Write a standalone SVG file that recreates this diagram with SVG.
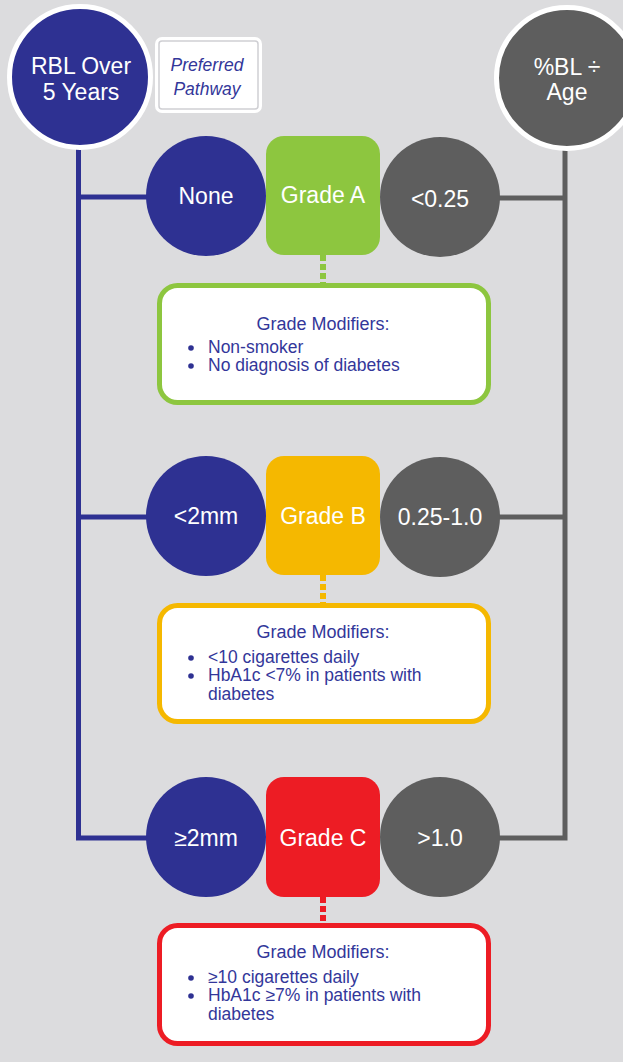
<svg xmlns="http://www.w3.org/2000/svg" width="623" height="1062" viewBox="0 0 623 1062">
<style>
.t{font-family:"Liberation Sans",Arial,sans-serif;fill:#fff;font-size:23px;text-anchor:middle}
.m{font-family:"Liberation Sans",Arial,sans-serif;fill:#33379a;font-size:17.5px}
.h{text-anchor:middle;font-size:18px}
.blue{fill:#2e3192}
.gray{fill:#5e5e5e}
.bl{stroke:#2e3192;stroke-width:5;fill:none}
.gl{stroke:#5e5e5e;stroke-width:5;fill:none}
.box{fill:#fff;stroke-width:5}
.dot{stroke-width:6;stroke-dasharray:6 3;fill:none}
</style>
<rect width="623" height="1062" fill="#dcdcde"/>
<g id="connectors">
<polyline class="bl" points="78.5,140 78.5,838 150,838"/>
<line class="bl" x1="78.5" y1="197" x2="150" y2="197"/>
<line class="bl" x1="78.5" y1="517" x2="150" y2="517"/>
<polyline class="gl" points="565,140 565,838 495,838"/>
<line class="gl" x1="565" y1="198" x2="495" y2="198"/>
<line class="gl" x1="565" y1="517" x2="495" y2="517"/>
<line class="dot" stroke="#8dc63f" x1="323" y1="255" x2="323" y2="284"/>
<line class="dot" stroke="#f5b800" x1="323" y1="575" x2="323" y2="604"/>
<line class="dot" stroke="#ed1c24" x1="323" y1="897" x2="323" y2="924"/>
</g>
<g id="rbl">
<circle cx="80" cy="77" r="70.5" fill="#2e3192" stroke="#fff" stroke-width="5"/>
<text class="t" x="81" y="74">RBL Over</text>
<text class="t" x="81" y="100">5 Years</text>
</g>
<g id="preferred">
<rect x="155" y="37" width="107" height="76" rx="7" fill="#fff"/>
<rect x="159" y="41" width="99" height="68" rx="3" fill="#fff" stroke="#cfcfd3" stroke-width="1.5"/>
<text class="m" x="207" y="71" text-anchor="middle" font-style="italic" font-size="20">Preferred</text>
<text class="m" x="207" y="95" text-anchor="middle" font-style="italic" font-size="20">Pathway</text>
</g>
<g id="blage">
<circle cx="567" cy="78" r="70.5" fill="#5e5e5e" stroke="#fff" stroke-width="5"/>
<text class="t" x="567" y="75">%BL ÷</text>
<text class="t" x="567" y="100">Age</text>
</g>
<g id="none"><circle class="blue" cx="206" cy="196" r="60"/><text class="t" x="206" y="204">None</text></g>
<g id="gradeA"><rect x="266" y="136" width="114" height="119" rx="18" fill="#8dc63f"/><text class="t" x="323" y="203">Grade A</text></g>
<g id="lt025"><circle class="gray" cx="440" cy="197" r="60"/><text class="t" x="440" y="207">&lt;0.25</text></g>
<g id="modA">
<rect class="box" stroke="#8dc63f" x="159.5" y="285.5" width="329" height="117" rx="18"/>
<text class="m h" x="323" y="330">Grade Modifiers:</text>
<circle class="blue" cx="191" cy="348" r="2.8"/><text class="m" x="208" y="353">Non-smoker</text>
<circle class="blue" cx="191" cy="366" r="2.8"/><text class="m" x="208" y="371">No diagnosis of diabetes</text>
</g>
<g id="lt2mm"><circle class="blue" cx="206" cy="516" r="60"/><text class="t" x="206" y="524">&lt;2mm</text></g>
<g id="gradeB"><rect x="266" y="456" width="114" height="119" rx="18" fill="#f5b800"/><text class="t" x="323" y="524">Grade B</text></g>
<g id="mid"><circle class="gray" cx="440" cy="517" r="60"/><text class="t" x="440" y="525">0.25-1.0</text></g>
<g id="modB">
<rect class="box" stroke="#f5b800" x="159.5" y="605.5" width="329" height="116" rx="18"/>
<text class="m h" x="323" y="638">Grade Modifiers:</text>
<circle class="blue" cx="191" cy="658" r="2.8"/><text class="m" x="208" y="663">&lt;10 cigarettes daily</text>
<circle class="blue" cx="191" cy="676" r="2.8"/><text class="m" x="208" y="681">HbA1c &lt;7% in patients with</text>
<text class="m" x="208" y="700">diabetes</text>
</g>
<g id="ge2mm"><circle class="blue" cx="206" cy="837" r="60"/><text class="t" x="206" y="846">≥2mm</text></g>
<g id="gradeC"><rect x="266" y="777" width="114" height="120" rx="18" fill="#ed1c24"/><text class="t" x="323" y="846">Grade C</text></g>
<g id="gt1"><circle class="gray" cx="440" cy="837" r="60"/><text class="t" x="440" y="846">&gt;1.0</text></g>
<g id="modC">
<rect class="box" stroke="#ed1c24" x="159.5" y="925.5" width="329" height="118" rx="18"/>
<text class="m h" x="323" y="958">Grade Modifiers:</text>
<circle class="blue" cx="191" cy="978" r="2.8"/><text class="m" x="208" y="983">≥10 cigarettes daily</text>
<circle class="blue" cx="191" cy="996" r="2.8"/><text class="m" x="208" y="1001">HbA1c ≥7% in patients with</text>
<text class="m" x="208" y="1020">diabetes</text>
</g>
</svg>
